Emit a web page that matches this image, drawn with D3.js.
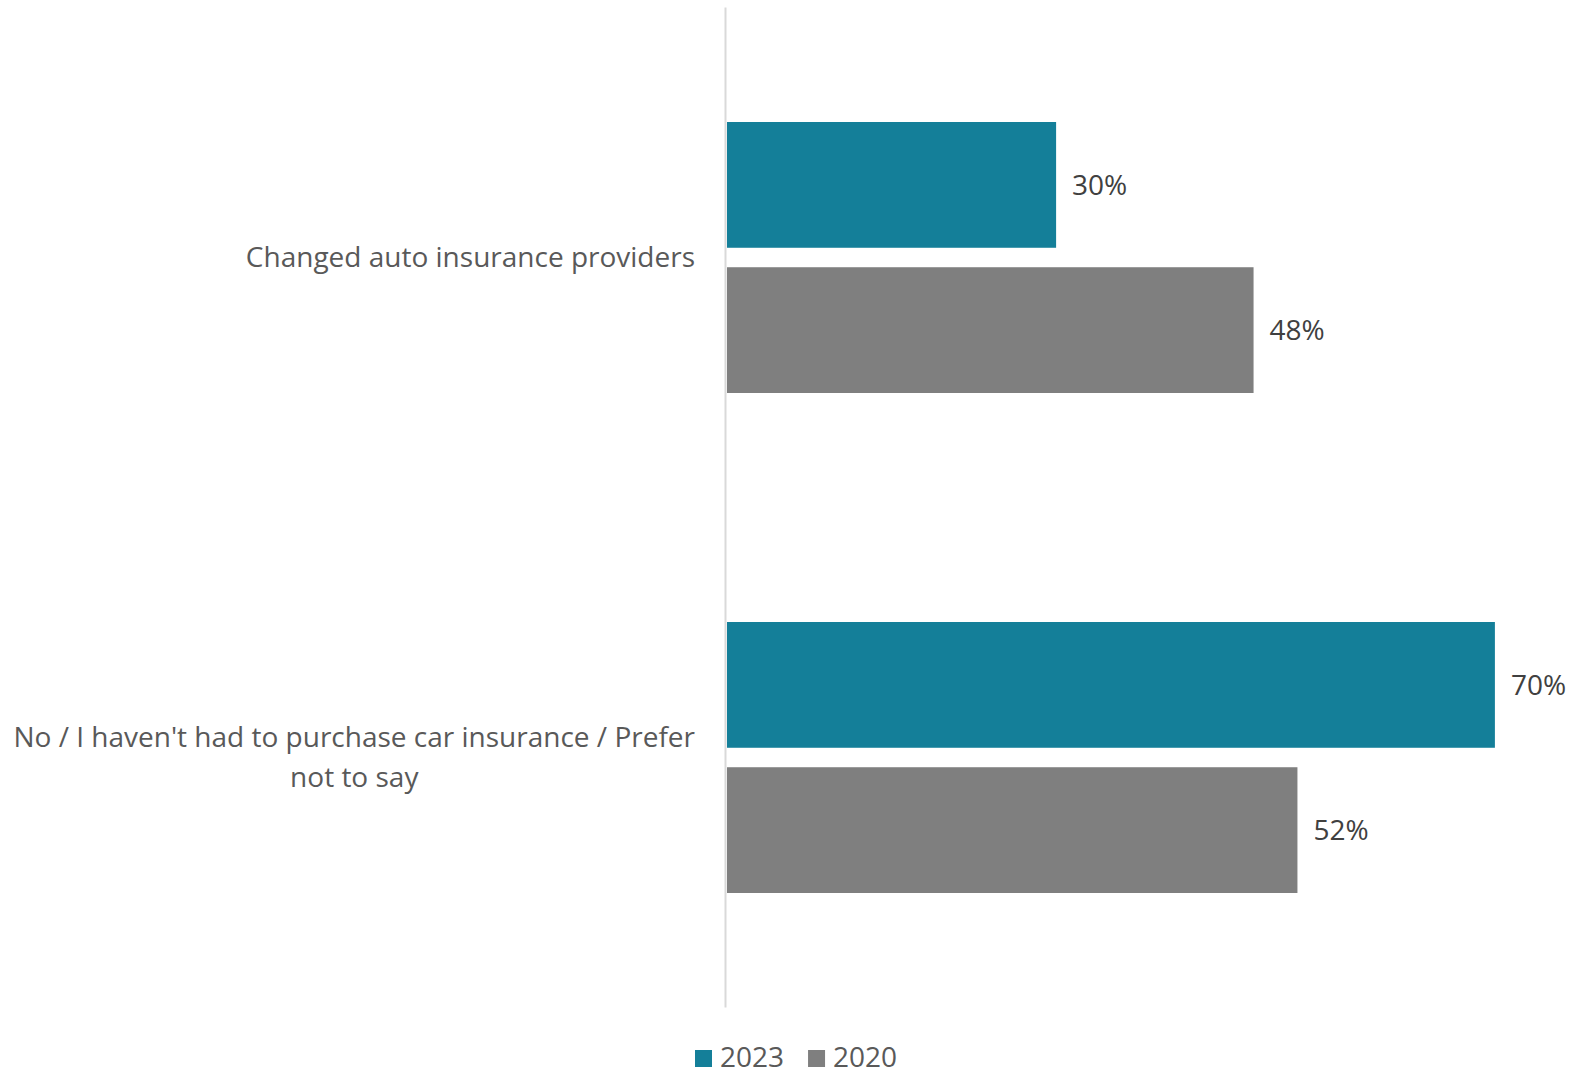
<!DOCTYPE html>
<html>
<head>
<meta charset="utf-8">
<script src="https://cdn.jsdelivr.net/npm/d3@7/dist/d3.min.js"></script>
<style>
  html, body { margin: 0; padding: 0; background: #fff; }
  svg { display: block; font-family: "Open Sans", "Noto Sans", sans-serif; }
</style>
</head>
<body>
<svg id="chart" width="1570" height="1077"></svg>
<script>
// Survey answers, share of respondents by year
const categories = [
  ["Changed auto insurance providers"],
  ["No / I haven't had to purchase car insurance / Prefer", "not to say"]
];
const seriesNames = ["2023", "2020"];
const values2023 = [0.30, 0.70];
const values2020 = [0.48, 0.52];
const seriesColors = ["#147F99", "#7F7F7F"];

const svg = d3.select("#chart");
const x0 = 727;
const fontSize = 28;

const x = d3.scaleLinear().domain([0, 1]).range([x0, x0 + 1097]);

const y = d3.scaleBand()
  .domain(d3.range(categories.length))
  .range([7.5, 1007.5])
  .paddingInner(0.458)
  .paddingOuter(0.229);

const ySub = d3.scaleBand()
  .domain(seriesNames)
  .range([0, y.bandwidth()])
  .paddingInner(0.134);

const seriesValues = [values2023, values2020];

// vertical category axis line
svg.append("line")
  .attr("x1", x0 - 1.5).attr("x2", x0 - 1.5)
  .attr("y1", 7.5).attr("y2", 1007.5)
  .attr("stroke", "#d9d9d9").attr("stroke-width", 2);

// bars and value labels
categories.forEach((cat, i) => {
  const g = svg.append("g").attr("transform", `translate(0,${y(i)})`);
  seriesNames.forEach((s, j) => {
    const v = seriesValues[j][i];
    g.append("rect")
      .attr("x", x(0))
      .attr("y", ySub(s))
      .attr("width", x(v) - x(0))
      .attr("height", ySub.bandwidth())
      .attr("fill", seriesColors[j]);
    g.append("text")
      .attr("x", x(v) + 16)
      .attr("y", ySub(s) + ySub.bandwidth() / 2)
      .attr("dy", "0.35em")
      .attr("fill", "#404040")
      .attr("font-size", fontSize)
      .text(d3.format(".0%")(v));
  });
});

// category labels, centred lines right-aligned as a block
categories.forEach((lines, i) => {
  const cy = y(i) + y.bandwidth() / 2;
  const lh = 40;
  const t = svg.append("text")
    .attr("fill", "#595959")
    .attr("font-size", fontSize)
    .attr("text-anchor", "middle");
  const spans = lines.map((ln, k) => t.append("tspan")
    .attr("y", cy + (k - (lines.length - 1) / 2) * lh)
    .attr("dy", "0.35em")
    .text(ln));
  const maxW = d3.max(spans, s => s.node().getComputedTextLength());
  spans.forEach(s => s.attr("x", 695 - maxW / 2));
});

// legend
const legend = svg.append("g");
let lx = 695;
seriesNames.forEach((s, j) => {
  legend.append("rect")
    .attr("x", lx).attr("y", 1050)
    .attr("width", 17).attr("height", 17)
    .attr("fill", seriesColors[j]);
  const t = legend.append("text")
    .attr("x", lx + 25).attr("y", 1067)
    .attr("fill", "#595959")
    .attr("font-size", fontSize)
    .text(s);
  lx += 25 + t.node().getComputedTextLength() + 24;
});
</script>
</body>
</html>
